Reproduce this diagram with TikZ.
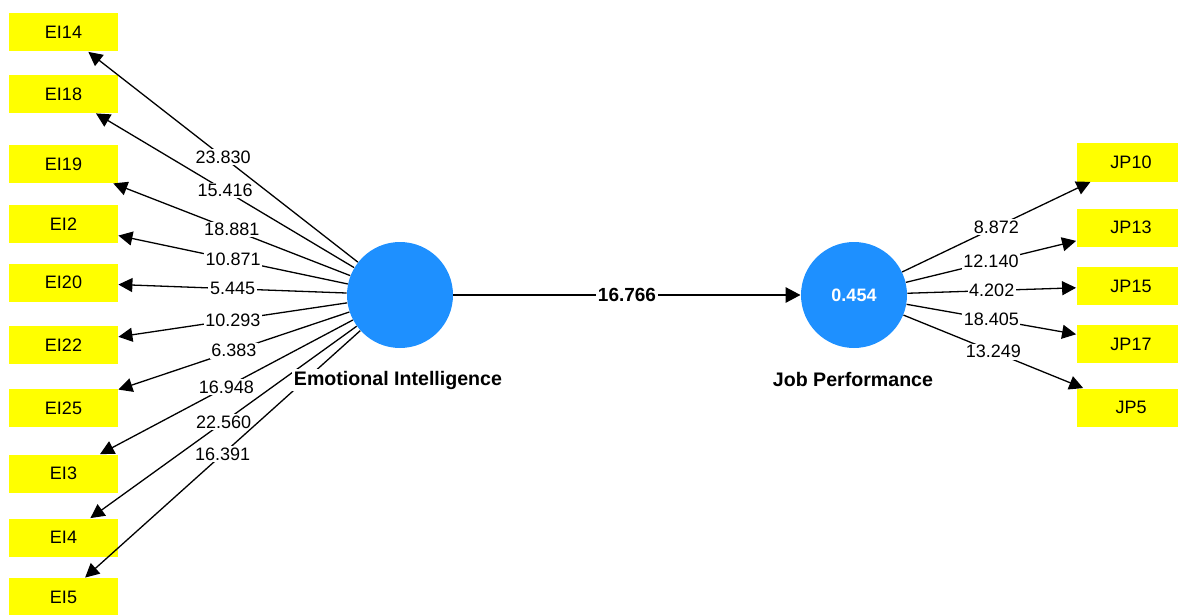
\documentclass[tikz,border=0pt]{standalone}
\usepackage{fontspec}
\setmainfont{Liberation Sans}
\usetikzlibrary{arrows.meta}
\definecolor{lvblue}{RGB}{30,144,255}
\definecolor{mvyellow}{RGB}{255,255,0}

\begin{document}
\begin{tikzpicture}[x=0.5pt, y=-0.5pt,
  item/.style={fill=mvyellow, minimum width=54.5pt, minimum height=19pt, inner sep=0pt, font=\fontsize{9}{11}\selectfont},
  latent/.style={circle, fill=lvblue, minimum size=53pt, inner sep=0pt},
  lvname/.style={fill=white, inner sep=1pt, font=\bfseries\fontsize{9.8}{12}\selectfont},
  load/.style={-{Triangle[length=7pt,width=7pt]}, line width=0.65pt},
  val/.style={fill=white, inner sep=0.8pt, font=\fontsize{9}{11}\selectfont},
  coef/.style={-{Triangle[length=7.5pt,width=7.5pt]}, line width=1.4pt}]
\useasboundingbox (0,0) rectangle (1178,615);

\node[item] (ei14) at (63.5,32.5) {EI14};
\node[item] (ei18) at (63.5,94) {EI18};
\node[item] (ei19) at (63.5,164) {EI19};
\node[item] (ei2) at (63.5,224) {EI2};
\node[item] (ei20) at (63.5,282.5) {EI20};
\node[item] (ei22) at (63.5,345) {EI22};
\node[item] (ei25) at (63.5,408) {EI25};
\node[item] (ei3) at (63.5,473.5) {EI3};
\node[item] (ei4) at (63.5,537.5) {EI4};
\node[item] (ei5) at (63.5,597) {EI5};

\node[item] (jp10) at (1131,162.5) {JP10};
\node[item] (jp13) at (1131,227.5) {JP13};
\node[item] (jp15) at (1131,286) {JP15};
\node[item] (jp17) at (1131,344) {JP17};
\node[item] (jp5) at (1131,407.5) {JP5};

\node[latent] (ei) at (400,295) {};
\node[latent, text=white, font=\bfseries\fontsize{9}{11}\selectfont] (jp) at (854,295) {0.454};

\draw[load] (ei) -- node[val] {23.830} (ei14);
\draw[load] (ei) -- node[val] {15.416} (ei18);
\draw[load] (ei) -- node[val] {18.881} (ei19);
\draw[load] (ei) -- node[val] {10.871} (ei2);
\draw[load] (ei) -- node[val] {5.445} (ei20);
\draw[load] (ei) -- node[val] {10.293} (ei22);
\draw[load] (ei) -- node[val] {6.383} (ei25);
\draw[load] (ei) -- node[val] {16.948} (ei3);
\draw[load] (ei) -- node[val] {22.560} (ei4);
\draw[load] (ei) -- node[val] {16.391} (ei5);

\draw[load] (jp) -- node[val] {8.872} (jp10);
\draw[load] (jp) -- node[val] {12.140} (jp13);
\draw[load] (jp) -- node[val] {4.202} (jp15);
\draw[load] (jp) -- node[val] {18.405} (jp17);
\draw[load] (jp) -- node[val] {13.249} (jp5);

\draw[coef] (ei) -- node[val, font=\bfseries\fontsize{9.5}{11}\selectfont] {16.766} (jp);

% construct names go on top of the loading lines
\node[lvname] (einame) at (398,380) {Emotional Intelligence};
\node[lvname] (jpname) at (853,379) {Job Performance};
\end{tikzpicture}
\end{document}
